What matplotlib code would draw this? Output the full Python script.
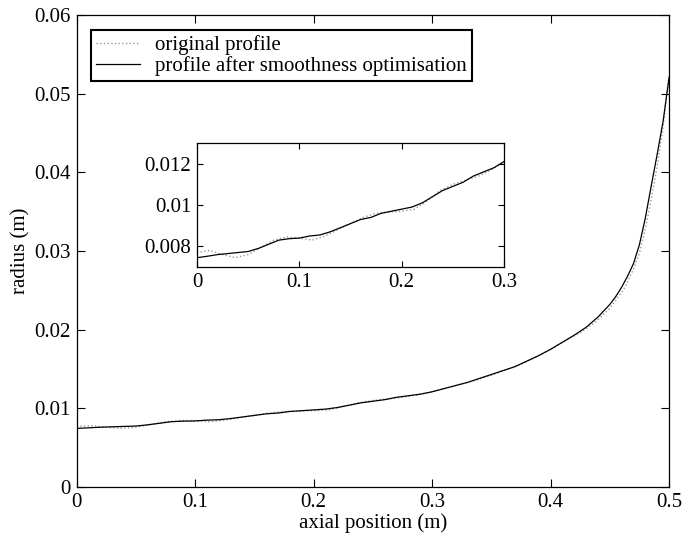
import matplotlib
matplotlib.use("Agg")
import matplotlib.pyplot as plt

# axial position (m) and radius (m)
x_orig = [0.0, 0.0125, 0.025, 0.0375, 0.05, 0.0625, 0.075, 0.0875, 0.1, 0.1125,
          0.125, 0.1375, 0.15, 0.1625, 0.175, 0.1875, 0.2, 0.2125, 0.225, 0.2375,
          0.25, 0.2625, 0.275, 0.2875, 0.3, 0.3125, 0.325, 0.3375, 0.35, 0.3625,
          0.375, 0.3875, 0.4, 0.4125, 0.425, 0.4375, 0.45, 0.4625, 0.47, 0.475,
          0.48, 0.485, 0.49, 0.495, 0.5]
r_orig = [0.0077, 0.0078, 0.0076, 0.00745, 0.0076, 0.00795, 0.0083, 0.00845, 0.0084, 0.0083,
          0.0085, 0.0088, 0.0091, 0.0094, 0.0096, 0.00965, 0.0097, 0.0098, 0.0102, 0.0107,
          0.0110, 0.0112, 0.0114, 0.0117, 0.0121, 0.0126, 0.0131, 0.0136, 0.0142, 0.0149,
          0.0156, 0.0165, 0.0175, 0.0186, 0.0196, 0.0209, 0.0227, 0.0253, 0.0277, 0.0297,
          0.0328, 0.0366, 0.0408, 0.0458, 0.0525]

x_smooth = [0.0, 0.01, 0.02, 0.03, 0.04, 0.05, 0.06, 0.07, 0.08, 0.09,
            0.1, 0.11, 0.12, 0.13, 0.14, 0.15, 0.16, 0.17, 0.18, 0.19,
            0.2, 0.21, 0.22, 0.23, 0.24, 0.25, 0.26, 0.27, 0.28, 0.29,
            0.3, 0.31, 0.32, 0.33, 0.34, 0.35, 0.36, 0.37, 0.38, 0.39,
            0.4, 0.41, 0.42, 0.43, 0.44, 0.45, 0.455, 0.46, 0.465, 0.47,
            0.475, 0.48, 0.485, 0.49, 0.495, 0.5]
r_smooth = [0.00745, 0.00752, 0.0076, 0.00765, 0.0077, 0.00775, 0.0079, 0.0081, 0.0083, 0.00837,
            0.0084, 0.0085, 0.00855, 0.0087, 0.0089, 0.0091, 0.0093, 0.0094, 0.0096, 0.0097,
            0.0098, 0.0099, 0.0101, 0.0104, 0.0107, 0.0109, 0.0111, 0.0114, 0.0116, 0.0118,
            0.0121, 0.0125, 0.0129, 0.0133, 0.0138, 0.0143, 0.0148, 0.0153, 0.0160, 0.0167,
            0.0175, 0.0184, 0.0193, 0.0203, 0.0216, 0.0232, 0.0242, 0.0254, 0.0268, 0.0284,
            0.0308, 0.0342, 0.0383, 0.0423, 0.0465, 0.0520]

main_xticks = [0, 0.1, 0.2, 0.3, 0.4, 0.5]
main_yticks = [0, 0.01, 0.02, 0.03, 0.04, 0.05, 0.06]
inset_xticks = [0, 0.1, 0.2, 0.3]
inset_yticks = [0.008, 0.01, 0.012]

plt.rcParams['font.family'] = ['Liberation Serif', 'DejaVu Serif']
plt.rcParams['font.size'] = 15

fig = plt.figure(figsize=(6.85, 5.38), dpi=100)
ax = fig.add_axes([0.1117, 0.0948, 0.865, 0.8773])

ax.plot(x_orig, r_orig, linestyle=':', color='#999999', lw=1.0, label='original profile')
ax.plot(x_smooth, r_smooth, '-', color='black', lw=0.9,
        label='profile after smoothness optimisation')
ax.set_xlim(0, 0.5)
ax.set_ylim(0, 0.06)
ax.set_xticks(main_xticks)
ax.set_xticklabels(['0', '0.1', '0.2', '0.3', '0.4', '0.5'])
ax.set_yticks(main_yticks)
ax.set_yticklabels(['0', '0.01', '0.02', '0.03', '0.04', '0.05', '0.06'])
ax.tick_params(direction='in', length=6, width=0.8, top=True, right=True, pad=4)
for s in ax.spines.values():
    s.set_linewidth(0.9)
ax.set_xlabel('axial position (m)', labelpad=1)
ax.set_ylabel('radius (m)', labelpad=3)

leg = ax.legend(loc='upper left', bbox_to_anchor=(0.0245, 0.968), borderaxespad=0,
                fancybox=False, framealpha=1, edgecolor='black', handlelength=2.1,
                handletextpad=0.7, borderpad=0.25, labelspacing=0.05)
leg.get_frame().set_linewidth(1.5)

# inset zoom on the first part of the profile
axi = fig.add_axes([0.2876, 0.5037, 0.4482, 0.2305])
axi.plot(x_orig, r_orig, linestyle=':', color='#999999', lw=1.0)
axi.plot(x_smooth, r_smooth, '-', color='black', lw=0.9)
axi.set_xlim(0, 0.3)
axi.set_ylim(0.007, 0.013)
axi.set_xticks(inset_xticks)
axi.set_xticklabels(['0', '0.1', '0.2', '0.3'])
axi.set_yticks(inset_yticks)
axi.set_yticklabels(['0.008', '0.01', '0.012'])
axi.tick_params(direction='in', length=4, width=0.8, top=True, right=True, pad=4)
for s in axi.spines.values():
    s.set_linewidth(0.9)

fig.savefig('out.png', dpi=100)
